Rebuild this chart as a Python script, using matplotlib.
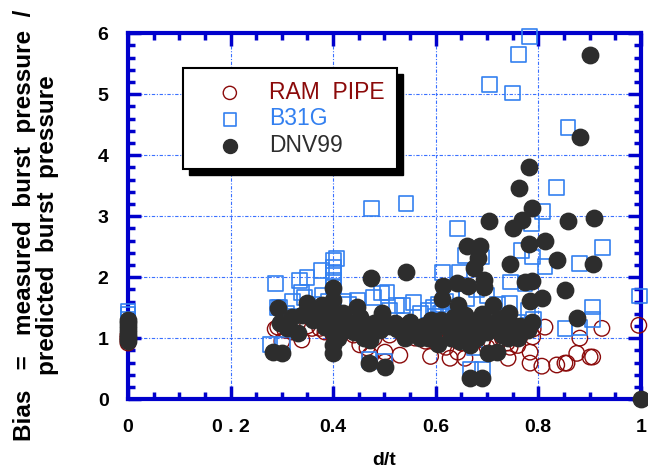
import matplotlib.pyplot as plt
from matplotlib.patches import Rectangle
from matplotlib.ticker import MultipleLocator

plt.rcParams['font.family'] = ['Liberation Sans', 'DejaVu Sans']

# RAM PIPE (open circles)
ram_x = [0, 0, 0, 0,
         0.287, 0.292, 0.306, 0.300, 0.320, 0.339, 0.350, 0.359, 0.374, 0.384,
         0.400, 0.419, 0.423, 0.440, 0.452, 0.466, 0.472, 0.480, 0.501, 0.501,
         0.510, 0.530, 0.540, 0.556, 0.560, 0.580, 0.590, 0.600, 0.610, 0.620,
         0.628, 0.643, 0.650, 0.657, 0.660, 0.673, 0.686, 0.692, 0.700, 0.706,
         0.720, 0.730, 0.739, 0.741, 0.745, 0.745, 0.760, 0.764, 0.770, 0.784,
         0.784, 0.789, 0.790, 0.807, 0.813, 0.836, 0.852, 0.856, 0.875, 0.881,
         0.901, 0.906, 0.924, 0.996]
ram_y = [0.92, 0.97, 1.00, 1.05,
         1.15, 1.18, 1.13, 0.95, 1.10, 0.97, 1.20, 1.16, 1.16, 1.10,
         1.05, 1.13, 1.20, 1.05, 0.89, 0.84, 0.72, 1.00, 0.77, 0.61,
         1.05, 0.72, 1.20, 1.15, 1.00, 0.95, 0.70, 1.10, 0.97, 0.85,
         0.67, 0.77, 0.92, 0.67, 1.05, 1.20, 1.10, 0.97, 0.85, 0.97,
         0.90, 1.00, 0.92, 0.67, 0.85, 1.08, 0.88, 1.02, 1.10, 0.77,
         0.59, 1.02, 1.15, 0.54, 1.18, 0.56, 0.59, 0.59, 0.75, 1.00,
         0.69, 0.69, 1.16, 1.21]

# B31G (open squares)
b31g_x = [0, 0, 0, 0,
          0.277, 0.287, 0.292, 0.296, 0.302, 0.310, 0.320, 0.335, 0.339, 0.345,
          0.349, 0.360, 0.378, 0.380, 0.390, 0.400, 0.400, 0.400, 0.400, 0.400,
          0.407, 0.420, 0.430, 0.448, 0.470, 0.475, 0.478, 0.495, 0.501, 0.505,
          0.510, 0.524, 0.536, 0.542, 0.556, 0.570, 0.585, 0.595, 0.600, 0.605,
          0.610, 0.614, 0.620, 0.630, 0.640, 0.640, 0.643, 0.647, 0.650, 0.657,
          0.660, 0.667, 0.676, 0.680, 0.690, 0.692, 0.700, 0.704, 0.720, 0.730,
          0.743, 0.745, 0.750, 0.760, 0.762, 0.768, 0.774, 0.780, 0.782, 0.786,
          0.788, 0.790, 0.809, 0.813, 0.836, 0.852, 0.858, 0.881, 0.881, 0.906,
          0.906, 0.926, 0.998]
b31g_y = [1.20, 1.30, 1.38, 1.43,
          0.89, 1.90, 1.50, 1.51, 0.89, 1.40, 1.60, 1.95, 1.75, 1.67,
          2.00, 1.55, 2.11, 1.70, 1.60, 2.28, 2.16, 2.07, 1.95, 1.85,
          2.31, 1.60, 1.55, 1.62, 0.65, 3.13, 1.66, 1.74, 0.62, 1.75,
          1.45, 1.54, 1.54, 3.21, 1.59, 1.40, 1.45, 1.50, 1.35, 1.55,
          1.40, 2.08, 1.60, 1.75, 1.50, 1.35, 2.80, 2.07, 1.20, 2.36,
          1.65, 0.48, 0.85, 1.80, 2.33, 0.48, 1.70, 5.16, 1.55, 1.35,
          1.57, 1.92, 5.02, 1.25, 5.65, 2.44, 1.90, 1.46, 5.95, 2.88,
          2.33, 1.30, 3.08, 2.18, 3.47, 1.16, 4.46, 2.23, 1.18, 1.51,
          1.30, 2.49, 1.69]

# DNV99 (filled circles)
dnv_x = [0, 0, 0, 0, 0, 0, 0,
         0.283, 0.300, 0.292, 0.296, 0.310, 0.320, 0.331, 0.339, 0.349, 0.360,
         0.370, 0.378, 0.380, 0.384, 0.390, 0.400, 0.400, 0.400, 0.400, 0.400,
         0.400, 0.400, 0.410, 0.419, 0.423, 0.430, 0.440, 0.446, 0.452, 0.460,
         0.466, 0.470, 0.472, 0.474, 0.480, 0.491, 0.495, 0.501, 0.510, 0.520,
         0.525, 0.535, 0.540, 0.542, 0.550, 0.560, 0.570, 0.575, 0.580, 0.585,
         0.590, 0.595, 0.605, 0.610, 0.612, 0.614, 0.620, 0.625, 0.630, 0.635,
         0.641, 0.643, 0.645, 0.650, 0.655, 0.657, 0.660, 0.661, 0.663, 0.665,
         0.667, 0.667, 0.670, 0.674, 0.680, 0.682, 0.685, 0.686, 0.690, 0.690,
         0.694, 0.694, 0.700, 0.702, 0.704, 0.710, 0.711, 0.719, 0.720, 0.725,
         0.730, 0.735, 0.741, 0.743, 0.745, 0.745, 0.750, 0.750, 0.760, 0.762,
         0.765, 0.768, 0.774, 0.780, 0.782, 0.782, 0.784, 0.788, 0.788, 0.788,
         0.807, 0.813, 0.836, 0.852, 0.858, 0.875, 0.881, 0.900, 0.906, 0.908,
         1.0]
dnv_y = [0.95, 1.00, 1.05, 1.12, 1.18, 1.25, 1.30,
         0.77, 0.75, 1.49, 1.25, 1.16, 1.35, 1.08, 1.38, 1.57, 1.30,
         1.45, 1.54, 1.38, 1.18, 1.50, 1.82, 1.62, 1.43, 1.25, 1.08,
         0.89, 0.75, 1.00, 1.41, 1.13, 1.25, 1.10, 1.51, 1.34, 1.00,
         1.18, 0.59, 0.97, 1.98, 1.25, 1.13, 1.41, 0.52, 1.20, 1.25,
         1.15, 1.10, 1.00, 2.08, 1.26, 1.10, 1.00, 1.20, 1.15, 1.00,
         1.30, 1.05, 0.90, 1.30, 1.64, 1.85, 1.20, 1.15, 1.00, 1.35,
         1.90, 1.54, 0.95, 1.25, 1.05, 1.38, 1.10, 2.51, 1.85, 1.30,
         0.89, 0.34, 1.20, 2.15, 1.00, 2.31, 1.20, 2.51, 0.34, 1.40,
         1.95, 1.84, 1.10, 0.75, 2.92, 1.20, 1.54, 0.77, 1.30, 1.15,
         1.05, 1.35, 1.00, 1.41, 1.25, 2.21, 2.80, 1.10, 1.00, 3.46,
         1.20, 2.93, 1.92, 1.13, 2.54, 3.80, 1.61, 1.93, 1.26, 3.13,
         1.66, 2.59, 2.28, 1.79, 2.92, 1.33, 4.30, 5.64, 2.21, 2.97,
         0.0]

x_ticks = [0, 0.2, 0.4, 0.6, 0.8, 1.0]
x_tick_labels = ['0', '0 . 2', '0.4', '0.6', '0.8', '1']

blue = '#0000cc'
fig = plt.figure(figsize=(6.48, 4.74), dpi=100)
ax = fig.add_axes([0.1975, 0.158, 0.7915, 0.772])

ax.scatter(ram_x, ram_y, s=125, facecolors='none', edgecolors='#8b0a0a',
           linewidths=1.0, label='RAM  PIPE', clip_on=False, zorder=3)
ax.scatter(b31g_x, b31g_y, s=115, marker='s', facecolors='none',
           edgecolors='#3380f0', linewidths=1.2, label='B31G', clip_on=False, zorder=4)
ax.scatter(dnv_x, dnv_y, s=140, color='#2d2d2d', label='DNV99',
           clip_on=False, zorder=5)

ax.set_xlim(0, 1)
ax.set_ylim(0, 6)
ax.set_xticks(x_ticks, x_tick_labels)
ax.xaxis.set_minor_locator(MultipleLocator(0.05))
ax.yaxis.set_major_locator(MultipleLocator(1))
ax.yaxis.set_minor_locator(MultipleLocator(0.2))
ax.grid(True, which='major', color='#3a70ff', linestyle=(0, (3, 1.5, 1, 1.5)), linewidth=0.8)
ax.set_axisbelow(True)

for s in ax.spines.values():
    s.set_color(blue)
    s.set_linewidth(3)
ax.tick_params(which='both', direction='in', top=True, right=True, color=blue)
ax.tick_params(which='major', length=9.5, width=2.5, labelsize=14, pad=14)
ax.tick_params(which='minor', length=5, width=2.5)
for lb in ax.get_xticklabels() + ax.get_yticklabels():
    lb.set_fontweight('bold')

ax.set_xlabel('d/t', fontsize=14, fontweight='bold', labelpad=12)
ax.set_ylabel('Bias   =   measured  burst  pressure  /\npredicted  burst  pressure',
              fontsize=17.5, fontweight='bold', linespacing=1.0, labelpad=28)
ax.yaxis.label.set_y(0.475)

leg = ax.legend(loc='upper left', bbox_to_anchor=(0.107, 0.904), borderaxespad=0,
                fancybox=False, framealpha=1, edgecolor='black', fontsize=16.5,
                handlelength=3.0, handletextpad=0.2, labelspacing=0.15,
                borderpad=0.55, scatterpoints=1, markerscale=0.85)
leg.get_frame().set_linewidth(1.5)
leg.set_zorder(10)
for t, c in zip(leg.get_texts(), ['#8b0a0a', '#3380f0', '#2d2d2d']):
    t.set_color(c)

fig.canvas.draw()
bb = leg.get_window_extent().transformed(ax.transAxes.inverted())
ax.add_patch(Rectangle((bb.x0 + 6 / 513, bb.y0 - 6 / 366), bb.width, bb.height,
                       transform=ax.transAxes, color='black', zorder=9, clip_on=False))

fig.savefig('out.png', dpi=100)
